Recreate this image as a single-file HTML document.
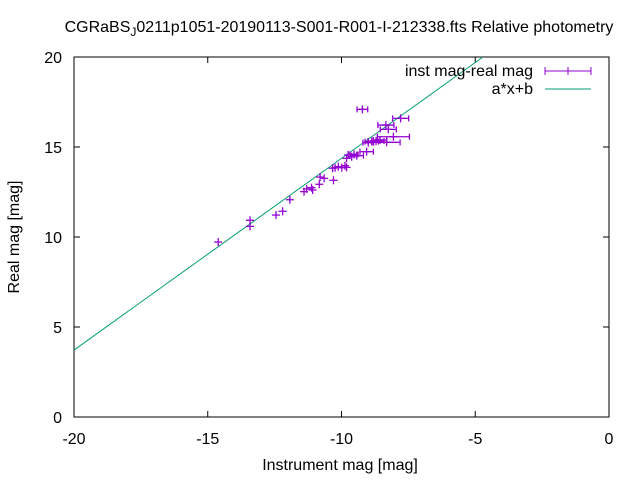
<!DOCTYPE html>
<html><head><meta charset="utf-8"><style>
body{margin:0;background:#fff}
svg{display:block;font-family:"Liberation Sans",sans-serif;font-size:16px}
</style></head><body>
<svg id="chart" width="640" height="480">
<rect width="640" height="480" fill="#fff"/>
<text x="339" y="32" text-anchor="middle">CGRaBS<tspan dy="4" font-size="12">J</tspan><tspan dy="-4">0211p1051-20190113-S001-R001-I-212338.fts Relative photometry</tspan></text>
<g id="axes"></g>
<g id="plot"></g>
<text x="340" y="470" text-anchor="middle">Instrument mag [mag]</text>
<text transform="translate(19,237) rotate(-90)" text-anchor="middle">Real mag [mag]</text>
<g>
<text x="533" y="76" text-anchor="end">inst mag-real mag</text>
<text x="533" y="94" text-anchor="end">a*x+b</text>
<g stroke="#9400d3"><line x1="545" y1="71" x2="591" y2="71"/><line x1="545" y1="67" x2="545" y2="75"/><line x1="591" y1="67" x2="591" y2="75"/><line x1="568" y1="67" x2="568" y2="75"/></g>
<line x1="545" y1="89" x2="591" y2="89" stroke="#009e73"/>
</g>
</svg>
<script>
const xs=[-14.61,-13.42,-13.42,-12.45,-12.20,-11.93,-11.40,-11.30,-11.12,-11.08,-10.83,-10.80,-10.65,-10.30,-10.33,-10.24,-10.12,-9.99,-9.87,-9.81,-9.75,-9.62,-9.53,-9.43,-9.22,-9.06,-9.00,-8.87,-8.71,-8.56,-8.34,-8.25,-8.06,-8.31,-7.79,-9.81];
const ys=[9.72,10.93,10.59,11.22,11.43,12.07,12.52,12.67,12.74,12.61,12.93,13.33,13.26,13.15,13.82,13.85,13.91,13.85,13.96,14.37,14.56,14.46,14.59,14.52,17.09,14.74,15.24,15.30,15.33,15.39,16.22,15.98,15.57,15.26,16.59,13.87];
const xerr=[0.03,0.05,0.03,0.04,0.03,0.05,0.04,0.04,0.04,0.04,0.05,0.05,0.05,0.03,0.05,0.05,0.06,0.08,0.1,0.1,0.1,0.12,0.15,0.25,0.2,0.25,0.2,0.25,0.3,0.25,0.3,0.3,0.6,0.5,0.3,0.1];
const yerr=[0.05,0.1,0.05,0.05,0.08,0.05,0.08,0.08,0.08,0.08,0.08,0.1,0.08,0.1,0.08,0.1,0.1,0.1,0.1,0.1,0.12,0.1,0.1,0.08,0.1,0.08,0.12,0.1,0.1,0.1,0.12,0.12,0.12,0.12,0.12,0.1];
const fitA=1.065, fitB=25.02;
const xTicks=[-20,-15,-10,-5,0];
const yTicks=[0,5,10,15,20];
const L=74,R=609,T=57,B=417;
const sx=v=>L+(v+20)/20*(R-L), sy=v=>B-v/20*(B-T);
const NS="http://www.w3.org/2000/svg";
function mk(t,a,p){const e=document.createElementNS(NS,t);for(const k in a)e.setAttribute(k,a[k]);p.appendChild(e);return e;}
const ax=document.getElementById('axes'), pl=document.getElementById('plot');
const fr=mk('rect',{x:L,y:T,width:R-L,height:B-T,fill:'none',stroke:'#000'},ax);


xTicks.forEach(v=>{const x=sx(v);
 const t=mk('line',{x1:x,y1:B,x2:x,y2:B-6,stroke:'#000'},ax);
 const t2=mk('line',{x1:x,y1:T,x2:x,y2:T+6,stroke:'#000'},ax);
 const l=mk('text',{x:x,y:B+27,'text-anchor':'middle'},ax);l.textContent=v;});
yTicks.forEach(v=>{const y=sy(v);
 const t=mk('line',{x1:L,y1:y,x2:L+6,y2:y,stroke:'#000'},ax);
 const t2=mk('line',{x1:R,y1:y,x2:R-6,y2:y,stroke:'#000'},ax);
 const l=mk('text',{x:L-12,y:y+6,'text-anchor':'end'},ax);l.textContent=v;});
const x0=-20,y0=fitA*x0+fitB; const x1=(20-fitB)/fitA;
const fl=mk('line',{x1:sx(x0),y1:sy(y0),x2:sx(x1),y2:sy(20),stroke:'#009e73','stroke-width':1},pl);


xs.forEach((xv,i)=>{const g=mk('g',{stroke:'#9400d3','stroke-width':1.3},pl);
 
 
 const cx=sx(xv),cy=sy(ys[i]),xa=sx(xv-xerr[i]),xb=sx(xv+xerr[i]);
 mk('line',{x1:cx-4,y1:cy,x2:cx+4,y2:cy},g);
 mk('line',{x1:cx,y1:cy-4,x2:cx,y2:cy+4},g);
 if(xb-xa>8){
 mk('line',{x1:xa,y1:cy,x2:xb,y2:cy},g);
 mk('line',{x1:xa,y1:cy-3,x2:xa,y2:cy+3},g);
 mk('line',{x1:xb,y1:cy-3,x2:xb,y2:cy+3},g);}
});
</script>
</body></html>
